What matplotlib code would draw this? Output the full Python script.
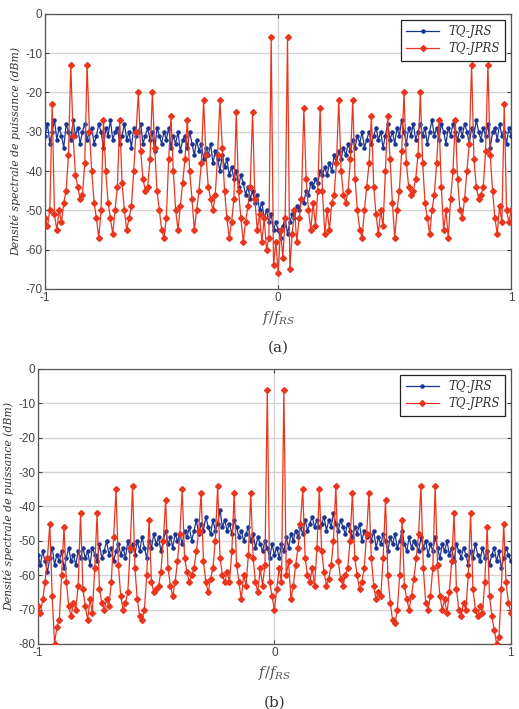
import numpy as np
import matplotlib
matplotlib.use('Agg')
from matplotlib import pyplot as plt

plt.rcParams['font.family'] = 'sans-serif'
plt.rcParams['font.sans-serif'] = ['Liberation Sans']
plt.rcParams['mathtext.fontset'] = 'dejavuserif'

# ---- panel (a) : spectres en dBm, f/fRS de -1 a 1 par pas de 0.01
jrs_a = [
    -31, -28, -33, -30, -27, -32, -29, -31, -34, -28, -30, -32, -27, -31, -29, -33, -30, -28, -32, -30,
    -29, -33, -31, -28, -30, -34, -29, -31, -27, -32, -30, -29, -33, -31, -28, -32, -30, -34, -29, -31,
    -30, -28, -33, -31, -29, -32, -30, -35, -29, -31, -33, -30, -32, -29, -34, -31, -33, -30, -35, -32,
    -31, -34, -30, -33, -36, -32, -35, -33, -37, -34, -36, -33, -38, -35, -37, -40, -36, -39, -37, -41,
    -39, -42, -40, -44, -41, -43, -46, -44, -47, -45, -48, -46, -50, -48, -52, -50, -53, -51, -55, -53,
    -55, -57, -54, -52, -56, -53, -51, -52, -49, -50, -47, -48, -45, -46, -43, -44, -42, -43, -40, -41,
    -39, -41, -38, -40, -36, -38, -35, -37, -34, -36, -33, -35, -32, -34, -31, -33, -30, -34, -32, -30,
    -33, -31, -29, -32, -30, -34, -31, -28, -32, -30, -33, -29, -31, -27, -30, -33, -29, -31, -28, -32,
    -30, -28, -31, -29, -33, -30, -27, -31, -29, -32, -28, -30, -33, -29, -31, -28, -30, -32, -29, -31,
    -28, -30, -33, -29, -31, -27, -30, -32, -29, -31, -28, -34, -30, -29, -32, -28, -31, -30, -33, -29,
    -31]
jprs_a = [
    -52, -54, -50, -23, -51, -55, -50, -53, -48, -45, -36, -13, -31, -41, -44, -47, -46, -38, -13, -30,
    -40, -48, -52, -57, -50, -27, -40, -48, -52, -56, -50, -44, -27, -43, -50, -55, -52, -49, -40, -30,
    -20, -35, -42, -45, -44, -37, -20, -34, -45, -50, -55, -57, -52, -37, -26, -40, -50, -55, -49, -43,
    -37, -27, -40, -47, -55, -50, -45, -38, -22, -36, -44, -47, -50, -46, -36, -22, -34, -45, -52, -57,
    -53, -47, -25, -45, -52, -58, -53, -49, -44, -25, -47, -55, -51, -58, -52, -60, -57, -6, -64, -58,
    -66, -55, -62, -52, -6, -65, -56, -50, -58, -52, -47, -24, -42, -50, -55, -48, -54, -45, -24, -45,
    -56, -50, -55, -48, -46, -38, -22, -40, -46, -48, -45, -37, -22, -42, -50, -55, -57, -50, -44, -38,
    -26, -44, -51, -56, -50, -54, -40, -26, -37, -48, -57, -50, -45, -35, -20, -38, -44, -46, -45, -42,
    -36, -20, -38, -48, -52, -56, -50, -46, -38, -27, -44, -55, -50, -57, -47, -40, -27, -42, -50, -52,
    -47, -40, -33, -13, -37, -44, -47, -46, -44, -35, -13, -36, -45, -52, -56, -49, -53, -23, -50, -53,
    -50]

# ---- panel (b)
jrs_b = [
    -54, -57, -53, -56, -59, -55, -52, -57, -54, -56, -53, -58, -55, -52, -56, -54, -57, -53, -55, -52,
    -55, -53, -57, -52, -54, -56, -51, -55, -53, -50, -54, -52, -56, -53, -51, -54, -52, -55, -50, -53,
    -51, -54, -50, -53, -49, -52, -55, -50, -52, -48, -51, -49, -53, -50, -47, -51, -49, -52, -48, -50,
    -48, -51, -47, -49, -46, -50, -47, -44, -48, -45, -47, -43, -46, -48, -44, -47, -45, -41, -46, -44,
    -47, -45, -48, -44, -46, -49, -47, -50, -48, -46, -50, -48, -52, -49, -51, -53, -50, -52, -55, -51,
    -54, -52, -55, -51, -53, -49, -52, -48, -50, -47, -49, -46, -48, -44, -47, -45, -43, -46, -44, -46,
    -45, -43, -47, -44, -46, -42, -45, -47, -44, -46, -48, -45, -47, -49, -46, -48, -45, -50, -47, -49,
    -48, -50, -47, -52, -49, -51, -48, -50, -53, -49, -51, -48, -52, -50, -47, -51, -53, -49, -52, -50,
    -51, -53, -49, -52, -50, -54, -51, -53, -49, -52, -55, -51, -53, -50, -54, -52, -56, -51, -53, -55,
    -52, -54, -57, -53, -55, -51, -54, -56, -52, -55, -53, -57, -54, -52, -56, -53, -58, -55, -52, -54,
    -56]
jprs_b = [
    -69, -71, -67, -62, -55, -45, -66, -80, -75, -73, -60, -46, -62, -69, -72, -68, -70, -63, -42, -64,
    -69, -73, -67, -71, -58, -42, -64, -68, -70, -67, -69, -62, -49, -35, -57, -66, -70, -68, -65, -52,
    -34, -58, -67, -72, -73, -70, -60, -44, -62, -65, -64, -63, -59, -50, -38, -58, -63, -66, -62, -56,
    -48, -35, -55, -59, -62, -60, -58, -53, -47, -36, -56, -62, -65, -61, -58, -50, -34, -55, -60, -62,
    -59, -62, -53, -36, -57, -62, -67, -60, -63, -54, -36, -55, -62, -65, -58, -63, -57, -6, -62, -66,
    -70, -64, -58, -62, -6, -60, -56, -67, -63, -57, -52, -45, -35, -55, -60, -62, -58, -63, -52, -35,
    -53, -59, -63, -61, -57, -50, -34, -56, -61, -63, -60, -58, -50, -36, -55, -60, -64, -62, -58, -48,
    -36, -55, -63, -67, -65, -66, -55, -38, -60, -68, -73, -74, -70, -60, -44, -63, -67, -70, -66, -61,
    -55, -48, -34, -58, -68, -70, -66, -58, -34, -57, -66, -70, -67, -71, -65, -56, -42, -64, -70, -72,
    -68, -70, -60, -42, -64, -70, -72, -69, -71, -62, -46, -66, -72, -76, -80, -78, -64, -45, -62, -68,
    -71]

blue = '#1b3592'
red = '#e8361f'

fig = plt.figure(figsize=(5.19, 7.09), dpi=100)

panels = [
    (jrs_a, jprs_a, [0.087, 0.5924, 0.898, 0.388], -70, '(a)'),
    (jrs_b, jprs_b, [0.0732, 0.0917, 0.911, 0.388], -80, '(b)'),
]

for jrs, jprs, pos, ymin, tag in panels:
    assert len(jrs) == 201 and len(jprs) == 201
    f = np.linspace(-1, 1, len(jrs))
    ax = fig.add_axes(pos)
    ax.plot(f, jrs, '-', color=blue, lw=0.9, marker='.', ms=4.5, label='TQ-JRS', zorder=3)
    ax.plot(f, jprs, '-', color=red, lw=0.9, marker='D', ms=3.0, label='TQ-JPRS', zorder=4)
    ax.set_xlim(-1, 1)
    ax.set_ylim(ymin, 0)
    ax.set_xticks([-1, 0, 1])
    ax.set_xticklabels(['-1', '0', '1'])
    ax.set_yticks(np.arange(ymin, 1, 10))
    ax.set_yticklabels(['%d' % v for v in np.arange(ymin, 1, 10)])
    ax.grid(True, color='#d4d4d4', lw=1.0)
    ax.set_axisbelow(True)
    ax.tick_params(direction='in', length=3, top=True, right=True, labelsize=8.5,
                   colors='#444444', pad=2)
    for s in ax.spines.values():
        s.set_color('#555555')
        s.set_linewidth(0.9)
    ax.set_ylabel('Densité spectrale de puissance (dBm)', family='DejaVu Serif',
                  style='italic', fontsize=7.8, color='#333333', labelpad=3)
    ax.set_xlabel('$f/f_{RS}$', fontsize=10.5, color='#555555', labelpad=4)
    leg = ax.legend(loc='upper right', fancybox=False, framealpha=1, edgecolor='#222222',
                    prop={'family': 'DejaVu Serif', 'style': 'italic', 'size': 8.5},
                    borderaxespad=0.5, handlelength=2.8, borderpad=0.45, labelspacing=0.35)
    leg.get_frame().set_linewidth(0.9)
    for t in leg.get_texts():
        t.set_color('#333333')
    ax.text(0.5, -0.215, tag, transform=ax.transAxes, ha='center', va='center',
            family='DejaVu Serif', fontsize=11, color='#333333')

fig.savefig('out.png', dpi=100)
